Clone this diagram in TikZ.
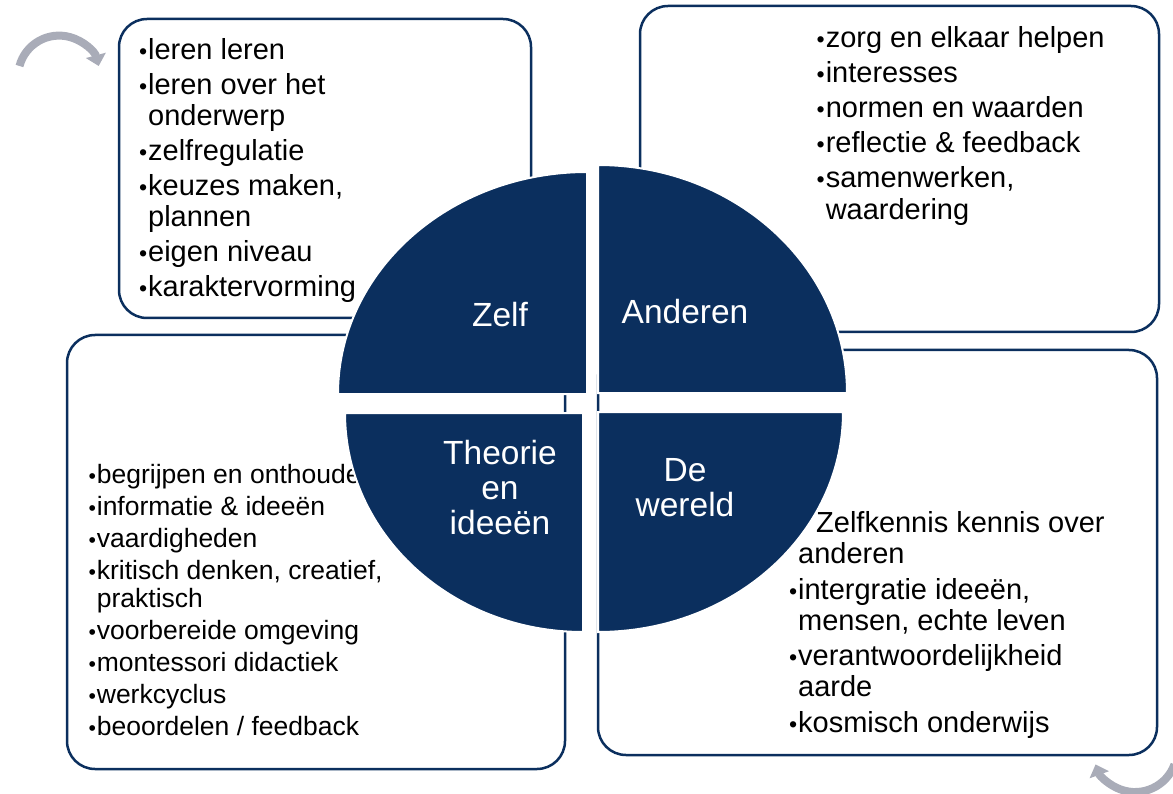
\documentclass[tikz,border=0pt]{standalone}
\usepackage{fontspec}
\setmainfont{Liberation Sans}
\usepackage{graphicx}
\usepackage{tikz}
\usetikzlibrary{arrows.meta}
\definecolor{navy}{HTML}{0B2F5E}
\definecolor{turngray}{HTML}{A9ACB8}
\newcommand{\bul}{\makebox[0.35em][c]{\scalebox{0.8}{\textbullet}}}

\begin{document}
\begin{tikzpicture}[x=1pt, y=-1pt,
        box/.style = {draw=navy, line width=2.5pt, rounded corners=28pt},
        quad/.style = {fill=navy, draw=white, line width=2pt},
        quadlabel/.style = {text=white, inner sep=0pt, align=center, font=\fontsize{33.5}{35}\selectfont},
        listtext/.style = {anchor=base west, inner sep=0pt},
        turn/.style = {draw=turngray, line width=8pt, -{Triangle[length=11pt,width=20pt]}}]
        \useasboundingbox (0,0) rectangle (1173,794);

        % the four boxes
        \draw[box] (119,19) rectangle (531,318);
        \draw[box] (640,6) rectangle (1159,332);
        \draw[box] (67,335) rectangle (565,769);
        \draw[box] (598,350) rectangle (1157,755);

        \node[listtext, font=\fontsize{29}{31}\selectfont] (zelflist) at (137.8,60) {\begin{tabular}[t]{@{}l@{}l@{}}
            \bul & leren leren\\[4pt]
            \bul & leren over het\\
                 & onderwerp\\[4pt]
            \bul & zelfregulatie\\[4pt]
            \bul & keuzes maken,\\
                 & plannen\\[4pt]
            \bul & eigen niveau\\[4pt]
            \bul & karaktervorming
        \end{tabular}};
        \node[listtext, font=\fontsize{29}{32}\selectfont] (anderenlist) at (815.4,47.8) {\begin{tabular}[t]{@{}l@{}l@{}}
            \bul & zorg en elkaar helpen\\[3pt]
            \bul & interesses\\[3pt]
            \bul & normen en waarden\\[3pt]
            \bul & reflectie \& feedback\\[3pt]
            \bul & samenwerken,\\
                 & waardering
        \end{tabular}};
        \node[listtext, font=\fontsize{26.5}{28}\selectfont] (theorielist) at (87.4,483.3) {\begin{tabular}[t]{@{}l@{}l@{}}
            \bul & begrijpen en onthouden\\[4pt]
            \bul & informatie \& ideeën\\[4pt]
            \bul & vaardigheden\\[4pt]
            \bul & kritisch denken, creatief,\\
                 & praktisch\\[4pt]
            \bul & voorbereide omgeving\\[4pt]
            \bul & montessori didactiek\\[4pt]
            \bul & werkcyclus\\[4pt]
            \bul & beoordelen / feedback
        \end{tabular}};
        \node[listtext, font=\fontsize{29}{31}\selectfont] (wereldlist) at (787.8,532) {\begin{tabular}[t]{@{}l@{}l@{}}
                 & \hspace*{18pt}Zelfkennis kennis over\\
                 & anderen\\[5pt]
            \bul & intergratie ideeën,\\
                 & mensen, echte leven\\[4.5pt]
            \bul & verantwoordelijkheid\\
                 & aarde\\[4.5pt]
            \bul & kosmisch onderwijs
        \end{tabular}};

        % circle in four parts
        \draw[quad] (587,394) -- (338,394) arc[start angle=180, end angle=270, x radius=249, y radius=222] -- cycle;
        \draw[quad] (598,393) -- (598,165) arc[start angle=270, end angle=360, x radius=249, y radius=228] -- cycle;
        \draw[quad] (583,413) -- (345,413) arc[start angle=180, end angle=90, x radius=238, y radius=219] -- cycle;
        \draw[quad] (598,412) -- (843,412) arc[start angle=0, end angle=90, x radius=245, y radius=220] -- cycle;

        \node[quadlabel, anchor=base] (zelf) at (500,326.7) {Zelf};
        \node[quadlabel, anchor=base] (anderen) at (685,323.3) {Anderen};
        \node[quadlabel] (theorie) at (500,488) {Theorie\\en\\ideeën};
        \node[quadlabel] (wereld) at (685,487.3) {De\\wereld};

        % turning arrows
        \draw[turn] (19.5,66) arc[start angle=195, end angle=345, radius=41];
        \draw[turn] (1174.5,764.4) arc[start angle=20, end angle=160, radius=42];
    \end{tikzpicture}
\end{document}
